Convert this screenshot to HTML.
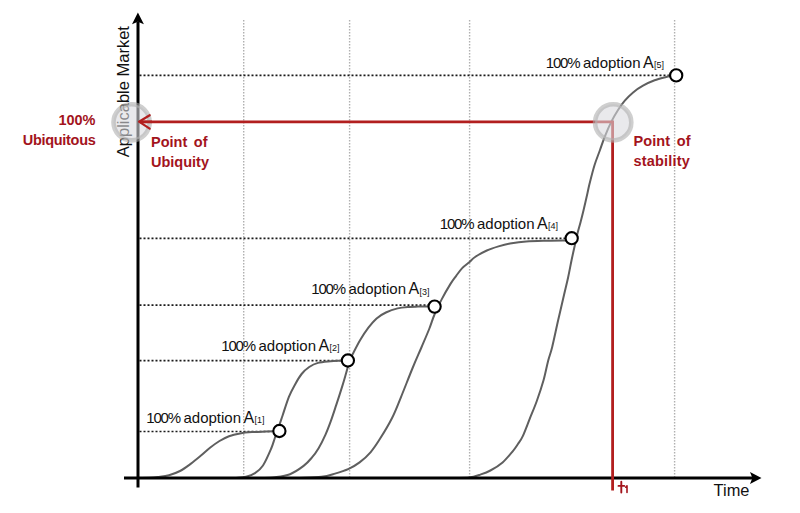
<!DOCTYPE html>
<html><head><meta charset="utf-8">
<style>
html,body{margin:0;padding:0;background:#fff;}
body{width:800px;height:513px;overflow:hidden;position:relative;}
svg{position:absolute;left:0;top:0;font-family:"Liberation Sans",sans-serif;}
.lab{font-size:15px;fill:#111;letter-spacing:-0.45px;}
.sub{font-size:9px;fill:#111;}
.red{fill:#a3141c;font-weight:bold;font-size:14.5px;}
</style></head>
<body>
<svg width="800" height="513" viewBox="0 0 800 513">
<line x1="243.7" y1="20" x2="243.7" y2="477" stroke="#b0b0b0" stroke-width="1.4" stroke-dasharray="1.4 1.6"/>
<line x1="349.6" y1="20" x2="349.6" y2="477" stroke="#b0b0b0" stroke-width="1.4" stroke-dasharray="1.4 1.6"/>
<line x1="469.6" y1="20" x2="469.6" y2="477" stroke="#b0b0b0" stroke-width="1.4" stroke-dasharray="1.4 1.6"/>
<line x1="674.6" y1="20" x2="674.6" y2="477" stroke="#b0b0b0" stroke-width="1.4" stroke-dasharray="1.4 1.6"/>
<line x1="139.5" y1="431.5" x2="272.0" y2="431.5" stroke="#1a1a1a" stroke-width="1.7" stroke-dasharray="2 2"/>
<line x1="139.5" y1="360.6" x2="341.0" y2="360.6" stroke="#1a1a1a" stroke-width="1.7" stroke-dasharray="2 2"/>
<line x1="139.5" y1="305.2" x2="428.0" y2="305.2" stroke="#1a1a1a" stroke-width="1.7" stroke-dasharray="2 2"/>
<line x1="139.5" y1="238.4" x2="565.0" y2="238.4" stroke="#1a1a1a" stroke-width="1.7" stroke-dasharray="2 2"/>
<line x1="139.5" y1="75.3" x2="670.0" y2="75.3" stroke="#1a1a1a" stroke-width="1.7" stroke-dasharray="2 2"/>
<path d="M140.00,478.00 C141.67,477.97 147.00,477.97 150.00,477.80 C153.00,477.63 154.83,477.43 158.00,477.00 C161.17,476.57 165.33,476.20 169.00,475.20 C172.67,474.20 176.33,472.93 180.00,471.00 C183.67,469.07 187.50,466.17 191.00,463.60 C194.50,461.03 197.83,458.23 201.00,455.60 C204.17,452.97 206.92,450.23 210.00,447.80 C213.08,445.37 216.33,442.93 219.50,441.00 C222.67,439.07 225.58,437.47 229.00,436.20 C232.42,434.93 236.17,434.08 240.00,433.40 C243.83,432.72 247.67,432.40 252.00,432.10 C256.33,431.80 262.33,431.73 266.00,431.60 C269.67,431.47 272.67,431.35 274.00,431.30" fill="none" stroke="#5f5f5f" stroke-width="2" stroke-linecap="round" stroke-linejoin="round"/>
<path d="M236.00,478.00 C237.67,477.80 242.83,477.60 246.00,476.80 C249.17,476.00 252.17,475.08 255.00,473.20 C257.83,471.32 260.33,469.53 263.00,465.50 C265.67,461.47 269.00,453.67 271.00,449.00 C273.00,444.33 273.60,441.50 275.00,437.50 C276.40,433.50 278.13,428.67 279.40,425.00 C280.67,421.33 281.02,420.20 282.60,415.50 C284.18,410.80 286.80,402.02 288.90,396.80 C291.00,391.58 293.08,388.00 295.20,384.20 C297.32,380.40 299.27,376.87 301.60,374.00 C303.93,371.13 306.47,368.85 309.20,367.00 C311.93,365.15 314.42,363.85 318.00,362.90 C321.58,361.95 327.10,361.67 330.70,361.30 C334.30,360.93 337.72,360.82 339.60,360.70 C341.48,360.58 341.60,360.62 342.00,360.60" fill="none" stroke="#5f5f5f" stroke-width="2" stroke-linecap="round" stroke-linejoin="round"/>
<path d="M262.00,478.00 C264.17,477.88 270.33,477.93 275.00,477.30 C279.67,476.67 285.23,476.10 290.00,474.20 C294.77,472.30 299.97,468.65 303.60,465.90 C307.23,463.15 309.30,460.65 311.80,457.70 C314.30,454.75 316.32,452.05 318.60,448.20 C320.88,444.35 323.45,439.15 325.50,434.60 C327.55,430.05 329.13,425.77 330.90,420.90 C332.67,416.03 334.20,411.20 336.10,405.40 C338.00,399.60 340.65,391.42 342.30,386.10 C343.95,380.78 344.80,377.68 346.00,373.50 C347.20,369.32 348.30,364.38 349.50,361.00 C350.70,357.62 351.42,356.70 353.20,353.20 C354.98,349.70 357.67,344.25 360.20,340.00 C362.73,335.75 365.67,331.30 368.40,327.70 C371.13,324.10 373.68,320.93 376.60,318.40 C379.52,315.87 382.40,314.17 385.90,312.50 C389.40,310.83 393.70,309.33 397.60,308.40 C401.50,307.47 405.90,307.20 409.30,306.90 C412.70,306.60 414.88,306.67 418.00,306.60 C421.12,306.53 426.33,306.52 428.00,306.50" fill="none" stroke="#5f5f5f" stroke-width="2" stroke-linecap="round" stroke-linejoin="round"/>
<path d="M300.00,478.00 C303.57,477.80 315.57,477.53 321.40,476.80 C327.23,476.07 330.45,474.93 335.00,473.60 C339.55,472.27 344.60,470.67 348.70,468.80 C352.80,466.93 355.97,465.15 359.60,462.40 C363.23,459.65 367.10,456.23 370.50,452.30 C373.90,448.37 376.38,444.57 380.00,438.80 C383.62,433.03 388.72,424.62 392.20,417.70 C395.68,410.78 397.50,405.58 400.90,397.30 C404.30,389.02 409.18,376.30 412.60,368.00 C416.02,359.70 418.60,354.08 421.40,347.50 C424.20,340.92 427.22,334.00 429.40,328.50 C431.58,323.00 432.43,319.40 434.50,314.50 C436.57,309.60 439.13,304.20 441.80,299.10 C444.47,294.00 448.10,287.78 450.50,283.90 C452.90,280.02 454.25,278.43 456.20,275.80 C458.15,273.17 460.02,270.37 462.20,268.10 C464.38,265.83 467.15,264.05 469.30,262.20 C471.45,260.35 472.18,258.95 475.10,257.00 C478.02,255.05 482.90,252.27 486.80,250.50 C490.70,248.73 494.63,247.55 498.50,246.40 C502.37,245.25 505.38,244.43 510.00,243.60 C514.62,242.77 519.95,241.88 526.20,241.40 C532.45,240.92 540.87,240.85 547.50,240.70 C554.13,240.55 562.92,240.53 566.00,240.50" fill="none" stroke="#5f5f5f" stroke-width="2" stroke-linecap="round" stroke-linejoin="round"/>
<path d="M455.00,478.00 C457.35,477.93 464.88,478.17 469.10,477.60 C473.32,477.03 476.75,475.78 480.30,474.60 C483.85,473.42 486.68,472.53 490.40,470.50 C494.12,468.47 498.88,465.60 502.60,462.40 C506.32,459.20 510.17,454.33 512.70,451.30 C515.23,448.27 516.12,446.73 517.80,444.20 C519.48,441.67 520.80,440.37 522.80,436.10 C524.80,431.83 527.47,424.45 529.80,418.60 C532.13,412.75 534.50,407.43 536.80,401.00 C539.10,394.57 541.72,386.68 543.60,380.00 C545.48,373.32 546.67,366.42 548.10,360.90 C549.53,355.38 550.52,353.72 552.20,346.90 C553.88,340.08 556.23,328.63 558.20,320.00 C560.17,311.37 562.35,302.18 564.00,295.10 C565.65,288.02 566.83,283.35 568.10,277.50 C569.37,271.65 570.47,265.42 571.60,260.00 C572.73,254.58 573.88,249.57 574.90,245.00 C575.92,240.43 576.75,236.43 577.70,232.60 C578.65,228.77 579.62,225.77 580.60,222.00 C581.58,218.23 582.45,214.83 583.60,210.00 C584.75,205.17 586.50,197.42 587.50,193.00 C588.50,188.58 588.43,188.13 589.60,183.50 C590.77,178.87 592.77,170.78 594.50,165.20 C596.23,159.62 598.27,154.82 600.00,150.00 C601.73,145.18 602.98,141.07 604.90,136.30 C606.82,131.53 609.28,125.82 611.50,121.40 C613.72,116.98 615.98,113.25 618.20,109.80 C620.42,106.35 622.32,103.60 624.80,100.70 C627.28,97.80 630.07,94.90 633.10,92.40 C636.13,89.90 639.42,87.72 643.00,85.70 C646.58,83.68 650.73,81.75 654.60,80.30 C658.47,78.85 663.63,77.68 666.20,77.00 C668.77,76.32 669.37,76.33 670.00,76.20" fill="none" stroke="#5f5f5f" stroke-width="2" stroke-linecap="round" stroke-linejoin="round"/>
<line x1="138" y1="22" x2="138" y2="487.5" stroke="#000" stroke-width="3"/>
<path d="M137.9,12.6 L143.9,24.2 L137.9,21.8 L132,24.2 Z" fill="#000"/>
<line x1="124" y1="478" x2="753" y2="478" stroke="#000" stroke-width="3.1"/>
<path d="M761.5,478 L750,472.1 L752.4,478 L750,483.9 Z" fill="#000"/>
<path d="M140,121.8 L612.6,121.8 L612.6,490.5" fill="none" stroke="#b21f1f" stroke-width="2.8"/>
<text x="146.3" y="422.5" class="lab" style="letter-spacing:-1.2px">100%</text>
<text x="183.5" y="422.5" class="lab" style="letter-spacing:0.0px">adoption</text>
<text x="243.4" y="422.5" class="lab" style="font-size:16px">A</text>
<text x="254.5" y="422.8" class="sub">[1]</text>
<text x="221.3" y="351.0" class="lab" style="letter-spacing:-1.2px">100%</text>
<text x="258.5" y="351.0" class="lab" style="letter-spacing:0.0px">adoption</text>
<text x="318.4" y="351.0" class="lab" style="font-size:16px">A</text>
<text x="329.5" y="351.3" class="sub">[2]</text>
<text x="311.3" y="294.4" class="lab" style="letter-spacing:-1.2px">100%</text>
<text x="348.5" y="294.4" class="lab" style="letter-spacing:0.0px">adoption</text>
<text x="408.4" y="294.4" class="lab" style="font-size:16px">A</text>
<text x="419.5" y="294.7" class="sub">[3]</text>
<text x="439.8" y="229.0" class="lab" style="letter-spacing:-1.2px">100%</text>
<text x="477.0" y="229.0" class="lab" style="letter-spacing:0.0px">adoption</text>
<text x="536.9" y="229.0" class="lab" style="font-size:16px">A</text>
<text x="548.0" y="229.3" class="sub">[4]</text>
<text x="545.8" y="67.6" class="lab" style="letter-spacing:-1.2px">100%</text>
<text x="583.0" y="67.6" class="lab" style="letter-spacing:0.0px">adoption</text>
<text x="642.9" y="67.6" class="lab" style="font-size:16px">A</text>
<text x="654.0" y="67.9" class="sub">[5]</text>
<text x="0" y="0" class="lab" style="font-size:16.5px;letter-spacing:0px" transform="translate(129.3,157.2) rotate(-90)">Applicable Market</text>
<text x="713.6" y="495.5" class="lab" style="font-size:16.4px;letter-spacing:0">Time</text>
<circle cx="279.4" cy="431.0" r="6.1" fill="#fff" stroke="#000" stroke-width="2.1"/>
<circle cx="347.9" cy="360.5" r="6.1" fill="#fff" stroke="#000" stroke-width="2.1"/>
<circle cx="434.6" cy="306.6" r="6.1" fill="#fff" stroke="#000" stroke-width="2.1"/>
<circle cx="571.7" cy="238.2" r="6.1" fill="#fff" stroke="#000" stroke-width="2.1"/>
<circle cx="676.2" cy="75.4" r="6.1" fill="#fff" stroke="#000" stroke-width="2.1"/>
<circle cx="131.6" cy="122.3" r="18.1" fill="rgba(217,217,222,0.59)" stroke="rgba(175,175,175,0.6)" stroke-width="4.6"/>
<circle cx="613.2" cy="122.4" r="18.1" fill="rgba(217,217,222,0.59)" stroke="rgba(175,175,175,0.6)" stroke-width="4.6"/>
<path d="M139.5,121.8 L152,121.8" fill="none" stroke="#b21f1f" stroke-width="2.8"/>
<path d="M149.7,115.2 L139,121.7 L149.7,128.7" fill="none" stroke="#b21f1f" stroke-width="2.2" stroke-linecap="round" stroke-linejoin="round"/>
<text x="95.5" y="125" class="red" text-anchor="end">100%</text>
<text x="95.5" y="145" class="red" text-anchor="end" style="letter-spacing:-0.3px">Ubiquitous</text>
<text x="151" y="146.5" class="red" style="word-spacing:2.5px">Point of</text>
<text x="151" y="166.5" class="red">Ubiquity</text>
<text x="633.5" y="146" class="red" style="word-spacing:2.5px;letter-spacing:0.1px">Point of</text>
<text x="633.5" y="166" class="red" style="letter-spacing:0.2px">stability</text>
<path d="M621.3,481.8 V492.6 M618.5,485.9 H624.3" fill="none" stroke="#a3141c" stroke-width="1.9" stroke-linecap="round"/>
<path d="M627,485.9 V492.4 M625.7,487.2 L627,485.9" fill="none" stroke="#a3141c" stroke-width="1.6" stroke-linecap="round"/>

</svg>
</body></html>
